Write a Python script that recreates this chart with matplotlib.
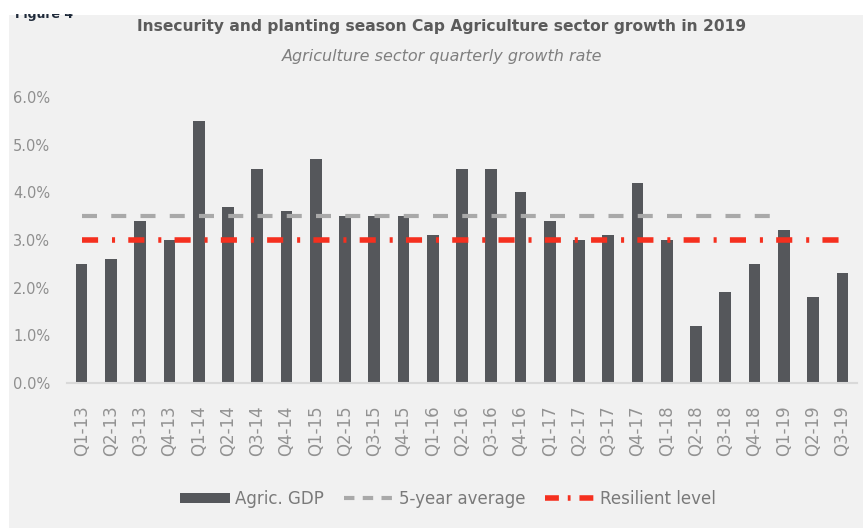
import numpy as np
import matplotlib
matplotlib.use("Agg")
import matplotlib.pyplot as plt
from matplotlib.patches import Rectangle, Patch
from matplotlib.lines import Line2D

# quarterly agriculture growth, %
quarters = ["Q1-13", "Q2-13", "Q3-13", "Q4-13",
            "Q1-14", "Q2-14", "Q3-14", "Q4-14",
            "Q1-15", "Q2-15", "Q3-15", "Q4-15",
            "Q1-16", "Q2-16", "Q3-16", "Q4-16",
            "Q1-17", "Q2-17", "Q3-17", "Q4-17",
            "Q1-18", "Q2-18", "Q3-18", "Q4-18",
            "Q1-19", "Q2-19", "Q3-19"]
agric_gdp = [2.5, 2.6, 3.4, 3.0,
             5.5, 3.7, 4.5, 3.6,
             4.7, 3.5, 3.5, 3.5,
             3.1, 4.5, 4.5, 4.0,
             3.4, 3.0, 3.1, 4.2,
             3.0, 1.2, 1.9, 2.5,
             3.2, 1.8, 2.3]
five_year_avg = [3.5] * 25 + [np.nan] * 2
resilient = [3.0] * 27
yticks = [0, 1, 2, 3, 4, 5, 6]

plt.rcParams["font.family"] = ["DejaVu Sans"]

W, H = 863, 528
fig = plt.figure(figsize=(W / 100, H / 100), dpi=100, facecolor="white")

# grey panel behind the chart
fig.patches.append(Rectangle((9 / W, 0), 1 - 9 / W, 1 - 15 / H,
                             transform=fig.transFigure, facecolor="#f1f1f1",
                             edgecolor="none", zorder=-10))
# caption sliced off by the top edge
fig.text(15 / W, 1 - 8 / H, "Figure 4", fontsize=9, fontweight="bold",
         color="#1f2a3a", va="top", ha="left", zorder=-5)
fig.patches.append(Rectangle((0, 1 - 14 / H), 1, 14 / H,
                             transform=fig.transFigure, facecolor="white",
                             edgecolor="none", zorder=-4))

ax = fig.add_axes([67 / W, (H - 383) / H, 790 / W, 286 / H])
ax.set_facecolor("none")

x = np.arange(len(quarters))
ax.bar(x, agric_gdp, width=0.4, color="#55575b", zorder=2)
ax.plot(x, five_year_avg, color="#a9a9a9", lw=3, dashes=(3.6, 3.42),
        dash_capstyle="butt", zorder=3)
ax.plot(x, resilient, color="#f5301f", lw=4, dashes=(2.9, 2.5, 0.55, 2.38),
        dash_capstyle="butt", zorder=4)

ax.set_xlim(-0.5, len(quarters) - 0.5)
ax.set_ylim(0, 6)
ax.set_yticks(yticks)
ax.set_yticklabels([f"{v:.1f}%" for v in yticks], fontsize=10.5,
                   color="#8f8f8f")
ax.set_xticks(x)
ax.set_xticklabels(quarters, rotation=90, fontsize=12, color="#929292")
ax.tick_params(length=0, pad=16)
ax.tick_params(axis="y", pad=12)
for side in ["top", "right", "left"]:
    ax.spines[side].set_visible(False)
ax.spines["bottom"].set_color("#d9d9d9")
ax.spines["bottom"].set_linewidth(1.5)

fig.text(442 / W, 1 - 27 / H,
         "Insecurity and planting season Cap Agriculture sector growth in 2019",
         ha="center", va="center", fontsize=11.2, fontweight="bold",
         color="#5b5b5b")
fig.text(442 / W, 1 - 57 / H, "Agriculture sector quarterly growth rate",
         ha="center", va="center", fontsize=11.5, style="italic",
         color="#7f7f7f")

handles = [Patch(facecolor="#55575b"),
           Line2D([], [], color="#a9a9a9", lw=3, dashes=(2.5, 2)),
           Line2D([], [], color="#f5301f", lw=4, dashes=(2.5, 1.6, 0.5, 1.6))]
labels = ["Agric. GDP", "5-year average", "Resilient level"]
leg = fig.legend(handles, labels, loc="center", ncol=3,
                 bbox_to_anchor=(448 / W, 1 - 499 / H), frameon=False,
                 fontsize=12, handlelength=3.0, handleheight=0.6,
                 handletextpad=0.3, columnspacing=1.2)
for t in leg.get_texts():
    t.set_color("#7a7a7a")

fig.savefig("out.png", dpi=100, facecolor="white")
